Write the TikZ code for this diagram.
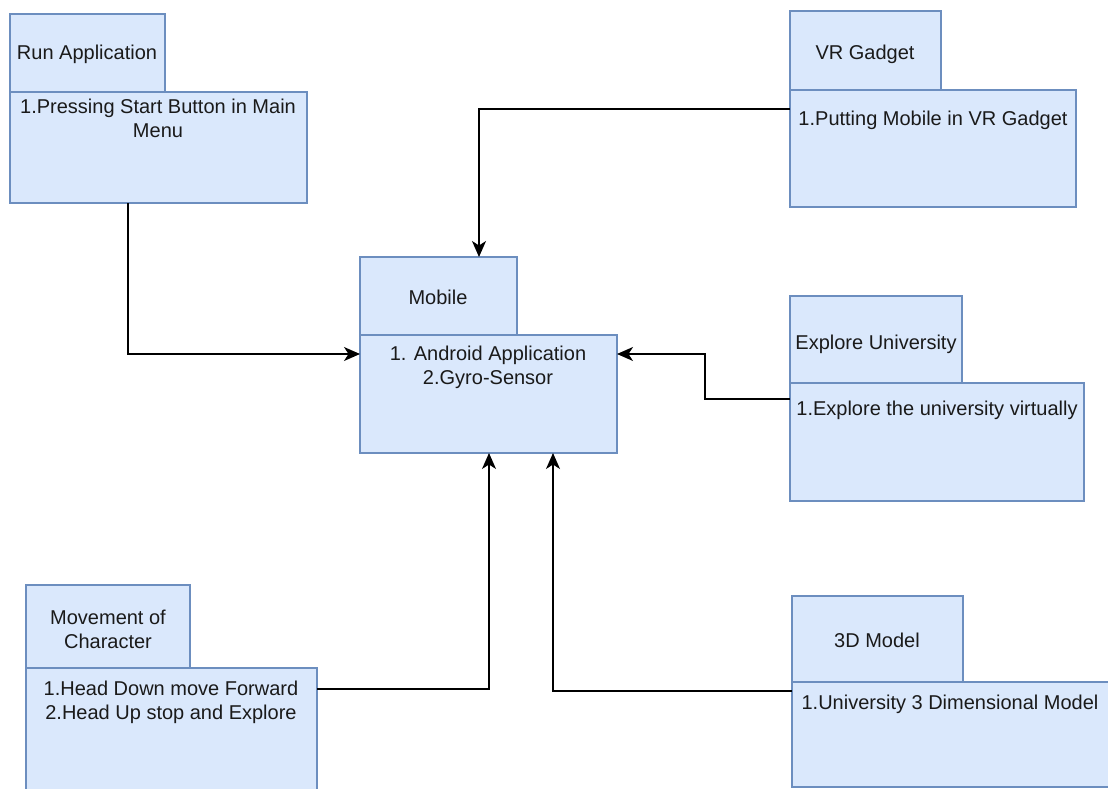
\documentclass[tikz,border=0pt]{standalone}
\usepackage{fontspec}
\setmainfont{Liberation Sans}
\usetikzlibrary{arrows.meta,calc}
\definecolor{pkgfill}{HTML}{DAE8FC}
\definecolor{pkgline}{HTML}{6C8EBF}
\definecolor{inktext}{HTML}{1A1A1A}
\tikzset{
  pkgpart/.style={draw=pkgline, fill=pkgfill, line width=1.3pt, inner sep=0pt,
    outer sep=0pt, anchor=north west},
  % multi-line texts are placed by the baseline of their last line
  txt/.style={font=\fontsize{20}{24}\selectfont, text=inktext, inner sep=0pt,
    align=center, anchor=base},
  conn/.style={draw=black, line width=1.5pt,
    -{Stealth[length=16pt,width=14pt,inset=4.5pt]}},
}
\begin{document}
\begin{tikzpicture}[x=1pt,y=-1pt]
\useasboundingbox (0,0) rectangle (1108,789);
\clip (0,0) rectangle (1108,789);
\fill[white] (0,0) rectangle (1108,789);

% Run Application
\node[pkgpart, minimum width=297pt, minimum height=111pt] (runBody) at (10,92) {};
\node[pkgpart, minimum width=155pt, minimum height=78pt] (runTab) at (10,14) {};
\node[txt] (runTitle) at (87,60) {Run Application};
\node[txt] (runText) at (158,138) {1.Pressing Start Button in Main\\Menu};

% VR Gadget
\node[pkgpart, minimum width=286pt, minimum height=117pt] (vrBody) at (790,90) {};
\node[pkgpart, minimum width=151pt, minimum height=79pt] (vrTab) at (790,11) {};
\node[txt] (vrTitle) at (865,60) {VR Gadget};
\node[txt] (vrText) at (933,125) {1.Putting Mobile in VR Gadget};

% Mobile
\node[pkgpart, minimum width=257pt, minimum height=118pt] (mobBody) at (360,335) {};
\node[pkgpart, minimum width=157pt, minimum height=78pt] (mobTab) at (360,257) {};
\node[txt] (mobTitle) at (438,304) {Mobile};
\node[txt] (mobText) at (488,384) {1. Android Application\\2.Gyro-Sensor};

% Explore University
\node[pkgpart, minimum width=294pt, minimum height=118pt] (exBody) at (790,383) {};
\node[pkgpart, minimum width=172pt, minimum height=87pt] (exTab) at (790,296) {};
\node[txt] (exTitle) at (876,349) {Explore University};
\node[txt] (exText) at (937,415) {1.Explore the university virtually};

% Movement of Character
\node[pkgpart, minimum width=291pt, minimum height=135pt] (mvBody) at (26,668) {};
\node[pkgpart, minimum width=164pt, minimum height=83pt] (mvTab) at (26,585) {};
\node[txt] (mvTitle) at (108,648) {Movement of\\Character};
\node[txt] (mvText) at (171,719) {1.Head Down move Forward\\2.Head Up stop and Explore};

% 3D Model
\node[pkgpart, minimum width=330pt, minimum height=105pt] (tdBody) at (792,682) {};
\node[pkgpart, minimum width=171pt, minimum height=86pt] (tdTab) at (792,596) {};
\node[txt] (tdTitle) at (877,647) {3D Model};
\node[txt] (tdText) at (950,709) {1.University 3 Dimensional Model};

% Connectors into the Mobile package
\draw[conn] ($(runBody.south west)+(118,0)$) |- ($(mobBody.north west)+(0,19)$);
\draw[conn] ($(vrBody.north west)+(0,19)$) -| ($(mobTab.north west)+(119,0)$);
\coordinate (exBend) at ($(exBody.north west)+(-85,16)$);
\draw[conn] ($(exBody.north west)+(0,16)$) -- (exBend) |- ($(mobBody.north east)+(0,19)$);
\draw[conn] ($(mvBody.north east)+(0,21)$) -| ($(mobBody.south west)+(129,0)$);
\draw[conn] ($(tdBody.north west)+(0,9)$) -| ($(mobBody.south west)+(193,0)$);
\end{tikzpicture}
\end{document}
